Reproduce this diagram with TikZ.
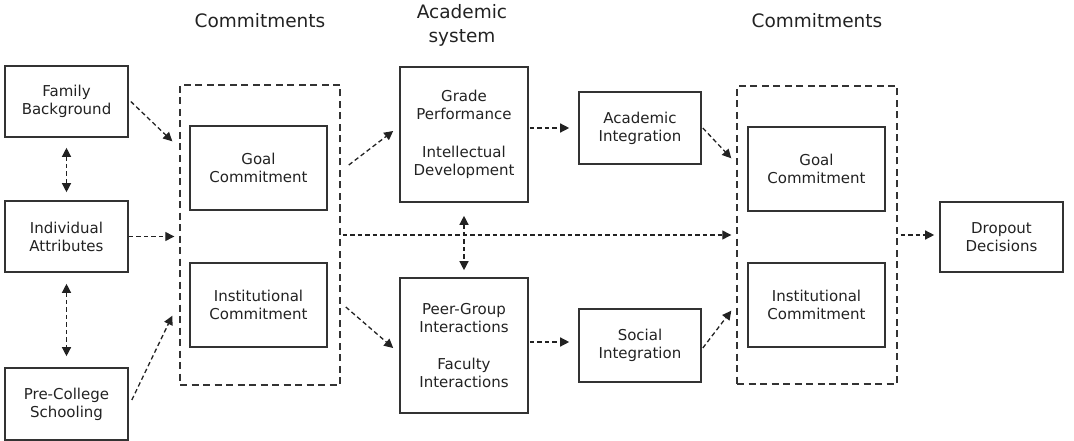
\documentclass[tikz,border=0pt]{standalone}
\usepackage{fontspec}
\setmainfont{DejaVu Sans}
\usetikzlibrary{arrows.meta,calc}
\newcommand\bxfont{\fontsize{15}{18}\selectfont}
\newcommand\ttlfont{\fontsize{18.5}{24}\selectfont}
\definecolor{edgegray}{HTML}{333333}
\definecolor{inkgray}{HTML}{222222}
\begin{document}
\begin{tikzpicture}[x=1pt,y=-1pt,
  box/.style={draw=edgegray,line width=1.6pt,inner sep=0pt,align=center,
    font=\bxfont,text=inkgray},
  group/.style={draw=edgegray,line width=1.4pt,dash pattern=on 7pt off 4.5pt,
    inner sep=0pt},
  title/.style={font=\ttlfont,text=inkgray,align=center},
  flow/.style={draw=inkgray,line width=1.3pt,dash pattern=on 4.5pt off 3pt,
    -{Triangle[length=9pt,width=9pt]}},
  mutual/.style={draw=inkgray,line width=1.3pt,dash pattern=on 4.5pt off 3pt,
    {Triangle[length=9pt,width=9pt]}-{Triangle[length=9pt,width=9pt]}}
]
\useasboundingbox (0,0) rectangle (1074,441);

% background characteristics
\node[box,minimum width=123pt,minimum height=71pt] (fam) at (66.5,101.5) {Family\\Background};
\node[box,minimum width=123pt,minimum height=71pt] (ind) at (66.5,236.5) {Individual\\Attributes};
\node[box,minimum width=123pt,minimum height=72pt] (pre) at (66.5,404) {Pre-College\\Schooling};

% initial commitments
\node[group,minimum width=160pt,minimum height=300pt] (contL) at (260,235) {};
\node[box,minimum width=137pt,minimum height=84pt] (goalL) at (258.5,168) {Goal\\Commitment};
\node[box,minimum width=137pt,minimum height=84pt] (instL) at (258.5,305) {Institutional\\Commitment};
\node[title] (tL) at (260,21) {Commitments};

% academic and social systems
\node[title] (tM) at (462,25) {Academic\\system};
\node[box,minimum width=128pt,minimum height=135pt] (grade) at (464,134.5)
  {Grade\\Performance\\[20pt]Intellectual\\Development};
\node[box,minimum width=128pt,minimum height=135pt] (peer) at (464,345.5)
  {Peer-Group\\Interactions\\[19pt]Faculty\\Interactions};
\node[box,minimum width=122pt,minimum height=72pt] (acad) at (640,128) {Academic\\Integration};
\node[box,minimum width=122pt,minimum height=73pt] (soc) at (640,345.5) {Social\\Integration};

% later commitments
\node[group,minimum width=160pt,minimum height=298pt] (contR) at (817,235) {};
\node[box,minimum width=137pt,minimum height=84pt] (goalR) at (816.5,169) {Goal\\Commitment};
\node[box,minimum width=137pt,minimum height=84pt] (instR) at (816.5,305) {Institutional\\Commitment};
\node[title] (tR) at (817,21) {Commitments};

% outcome
\node[box,minimum width=123pt,minimum height=70pt] (drop) at (1001.5,237) {Dropout\\Decisions};

% connectors
\draw[mutual,shorten <=10pt,shorten >=8pt] (fam.south) -- (ind.north);
\draw[mutual,shorten <=11pt,shorten >=11pt] (ind.south) -- (pre.north);
\draw[flow] ([xshift=2pt]fam.east) -- ([shift={(-7,57)}]contL.north west);
\draw[flow] (ind.east) -- ([xshift=-5pt]ind.east -| contL.west);
\draw[flow] ([shift={(3,-4)}]pre.east) -- ([shift={(-7,-70)}]contL.south west);

\draw[flow] ([xshift=21pt,yshift=3pt]goalL.east) -- ([xshift=-6pt,yshift=3.5pt]grade.west);
\draw[flow] ([xshift=18pt,yshift=-2pt]instL.east) -- ([xshift=-6pt,yshift=-2.5pt]peer.west);
\draw[mutual,shorten <=13pt,shorten >=7pt] (grade.south) -- (peer.north);

\draw[flow] ([xshift=1pt]grade.east |- acad.west) -- ([xshift=-9pt]acad.west);
\draw[flow] ([xshift=1pt,yshift=3.5pt]peer.east) -- ([xshift=-9pt,yshift=3.5pt]soc.west);

\draw[flow] ([xshift=2pt]contL.east) -- ([xshift=-5pt]contR.west);
\draw[flow] ([xshift=1pt]acad.east) -- ([shift={(-5,73)}]contR.north west);
\draw[flow] ([shift={(1,2.5)}]soc.east) -- ([shift={(-5,-74)}]contR.south west);
\draw[flow] ([xshift=3pt]contR.east) -- ([xshift=-5pt]contR.east -| drop.west);
\end{tikzpicture}
\end{document}
